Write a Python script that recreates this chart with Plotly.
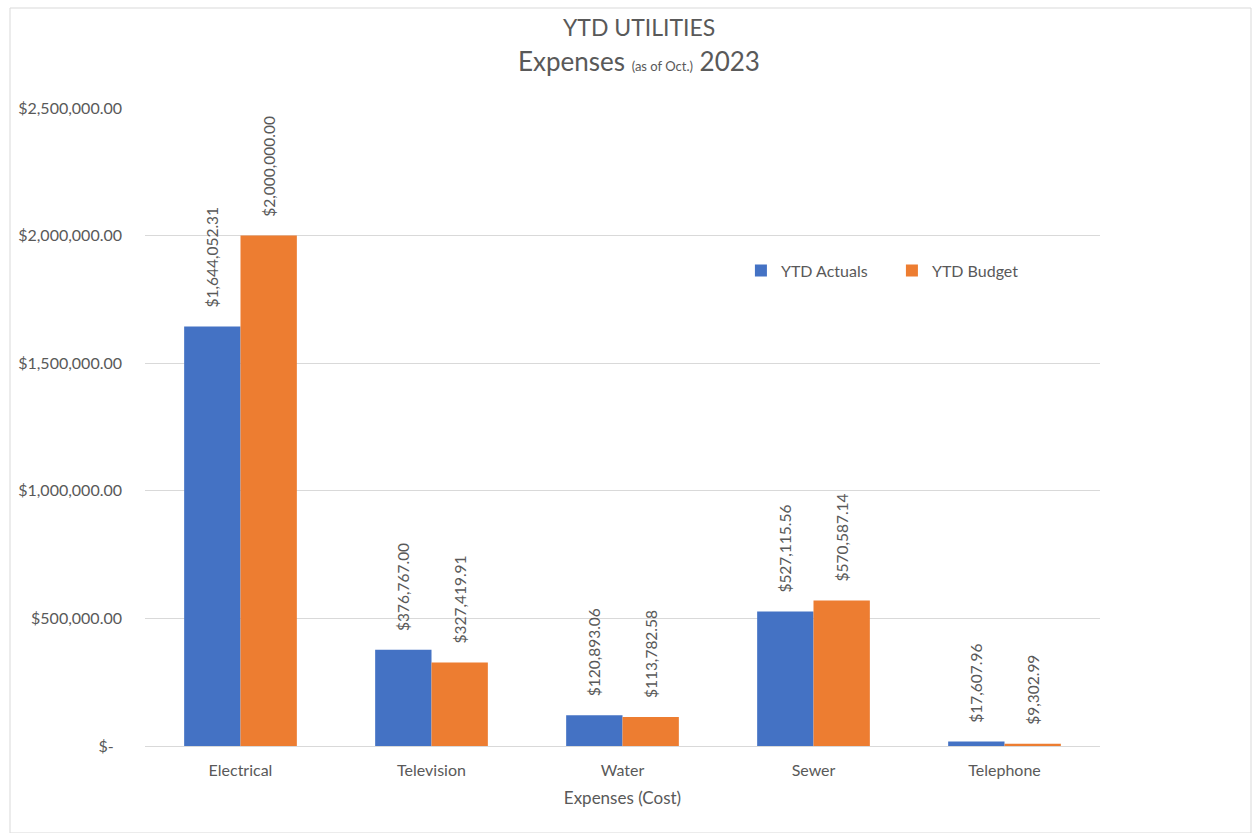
import plotly.graph_objects as go

categories = ["Electrical", "Television", "Water", "Sewer", "Telephone"]
ytd_actuals = [1644052.31, 376767.00, 120893.06, 527115.56, 17607.96]
ytd_budget = [2000000.00, 327419.91, 113782.58, 570587.14, 9302.99]
tick_vals = [0, 500000, 1000000, 1500000, 2000000, 2500000]
tick_text = ["$-\u00a0\u00a0", "$500,000.00", "$1,000,000.00", "$1,500,000.00", "$2,000,000.00", "$2,500,000.00"]

FONT = "Lato, 'Open Sans', sans-serif"
GREY = "#595959"
PAD = "\u00a0" * 4

fig = go.Figure()
for name, vals, color in [("YTD Actuals", ytd_actuals, "#4472C4"), ("YTD Budget", ytd_budget, "#ED7D31")]:
    fig.add_trace(go.Bar(
        x=categories, y=vals, name=name,
        marker=dict(color=color, line=dict(width=0)),
        texttemplate=PAD + "$%{y:,.2f}", textposition="outside", textangle=-90,
        constraintext="none",
        textfont=dict(size=15.5, color=GREY, family=FONT), cliponaxis=False,
    ))

fig.update_layout(
    width=1256, height=833,
    margin=dict(l=145, r=156, t=108, b=87),
    paper_bgcolor="white", plot_bgcolor="white",
    font=dict(family=FONT, color=GREY, size=16),
    barmode="group", bargap=0.41, bargroupgap=0,
    showlegend=True,
    legend=dict(orientation="h", x=0.624, y=0.745, xanchor="left", yanchor="middle",
                font=dict(size=16, color=GREY), bgcolor="rgba(0,0,0,0)",
                itemwidth=30, entrywidth=106, traceorder="normal"),
)
fig.update_yaxes(range=[0, 2500000], tickvals=tick_vals, ticktext=tick_text,
                 showgrid=True, gridcolor="#D9D9D9", gridwidth=1, zeroline=False,
                 showline=False, ticks="", ticklabelstandoff=22,
                 tickfont=dict(size=16, color=GREY))
fig.update_xaxes(showline=True, linecolor="#D9D9D9", linewidth=1, ticks="",
                 ticklabelstandoff=10,
                 tickfont=dict(size=16, color=GREY),
                 title=dict(text="Expenses (Cost)", font=dict(size=17, color=GREY), standoff=13))

# Title as annotations (paper coords)
fig.add_annotation(text="YTD UTILITIES", xref="paper", yref="paper", x=0.517, y=(746 - 27) / 638,
                   showarrow=False, font=dict(size=23, color=GREY, family=FONT), xanchor="center", yanchor="middle")
fig.add_annotation(text="Expenses <span style='font-size:13px'>(as of Oct.)</span> 2023", xref="paper", yref="paper",
                   x=0.517, y=(746 - 61) / 638, showarrow=False, font=dict(size=26, color=GREY, family=FONT),
                   xanchor="center", yanchor="middle")

# chart border
fig.add_shape(type="rect", xref="paper", yref="paper",
              x0=(10 - 145) / 955, x1=(1251 - 145) / 955, y0=(746 - 833) / 638, y1=(746 - 8) / 638,
              line=dict(color="#D9D9D9", width=1), fillcolor="rgba(0,0,0,0)", layer="below")

fig.write_html("out.html")
